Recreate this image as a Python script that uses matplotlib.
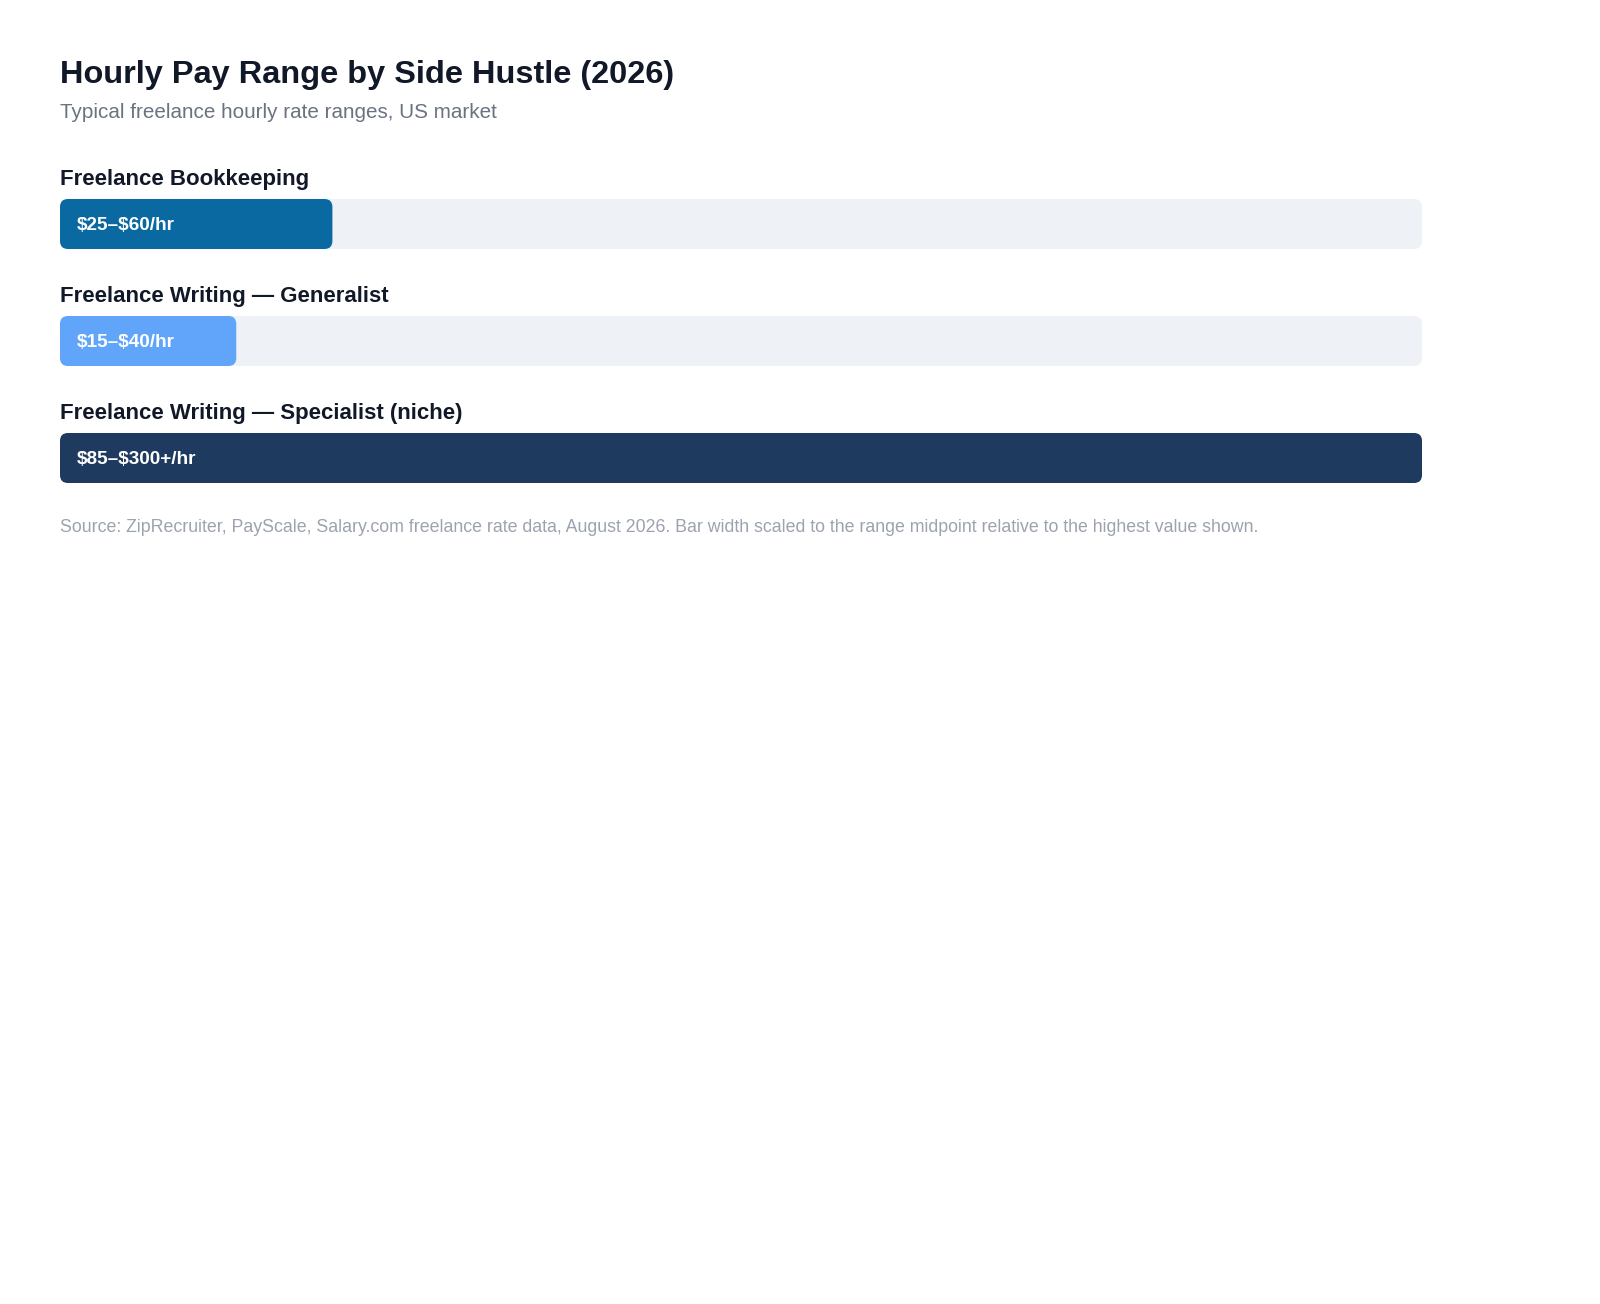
import matplotlib
matplotlib.use("Agg")
import matplotlib.pyplot as plt
from matplotlib.patches import FancyBboxPatch

plt.rcParams['font.family'] = ['Liberation Sans', 'DejaVu Sans']
plt.rcParams['text.parse_math'] = False

# data
categories = ["Freelance Bookkeeping",
              "Freelance Writing \u2014 Generalist",
              "Freelance Writing \u2014 Specialist (niche)"]
rate_labels = ["$25\u2013$60/hr", "$15\u2013$40/hr", "$85\u2013$300+/hr"]
# range midpoints used for bar width (top range open-ended, ~212.5)
midpoints = [42.5, 27.5, 212.5]
bar_colors = ["#0a69a1", "#60a5fa", "#1e3a5f"]

title = "Hourly Pay Range by Side Hustle (2026)"
subtitle = "Typical freelance hourly rate ranges, US market"
footer = ("Source: ZipRecruiter, PayScale, Salary.com freelance rate data, August 2026. "
          "Bar width scaled to the range midpoint relative to the highest value shown.")

W, H = 1600, 1304
fig = plt.figure(figsize=(W / 100, H / 100), dpi=100)
ax = fig.add_axes([0, 0, 1, 1])
ax.set_xlim(0, W)
ax.set_ylim(H, 0)
ax.axis("off")

left, right = 60, 1422
track_w = right - left
bar_h = 50
row_top = 199      # top of first bar
row_step = 117     # distance between rows
vmax = max(midpoints)

ax.text(left, 83, title, fontsize=23.4, fontweight="bold", color="#111827", va="baseline")
ax.text(left, 118, subtitle, fontsize=14.9, color="#6b7280", va="baseline")

for i, (cat, lab, mid, col) in enumerate(zip(categories, rate_labels, midpoints, bar_colors)):
    top = row_top + i * row_step
    ax.text(left, top - 14, cat, fontsize=16.0, fontweight="bold", color="#111827", va="baseline")
    track = FancyBboxPatch((left, top), track_w, bar_h,
                           boxstyle="round,pad=0,rounding_size=8",
                           facecolor="#eef1f6", edgecolor="none")
    ax.add_patch(track)
    w = mid / vmax * track_w
    bar = FancyBboxPatch((left, top), w, bar_h,
                         boxstyle="round,pad=0,rounding_size=8",
                         facecolor=col, edgecolor="none")
    ax.add_patch(bar)
    ax.text(left + 17, top + bar_h / 2 + 6, lab, fontsize=13.7, fontweight="bold",
            color="white", va="baseline")

ax.text(left, 532, footer, fontsize=12.8, color="#9ca3af", va="baseline")

fig.savefig("out.png", dpi=100, facecolor="white")
